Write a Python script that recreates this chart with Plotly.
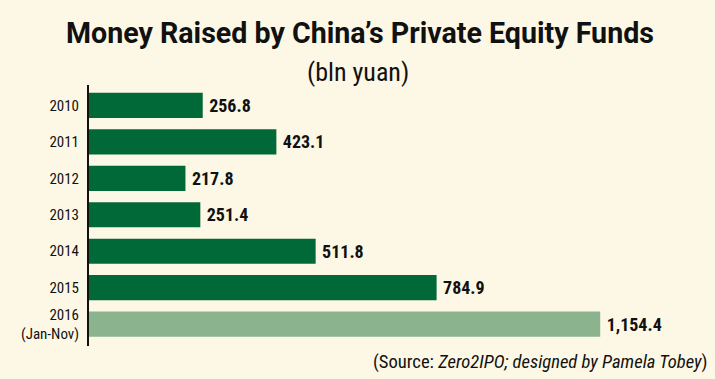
import plotly.graph_objects as go

years = ["2010", "2011", "2012", "2013", "2014", "2015", "2016<br>(Jan-Nov)"]
values = [256.8, 423.1, 217.8, 251.4, 511.8, 784.9, 1154.4]
bar_colors = ["#016937"] * 6 + ["#8ab38e"]

BG = "#fdf8e5"
COND = "Roboto Condensed, DejaVu Sans Condensed, sans-serif"
W, H = 715, 379
ML, MR, MT, MB = 89, 6, 85, 33
plot_w = W - ML - MR
plot_h = H - MT - MB


def px_x(x):
    return (x - ML) / plot_w


def px_y(y):
    return (H - MB - y) / plot_h


fig = go.Figure(go.Bar(
    x=values, y=years, orientation="h",
    marker=dict(color=bar_colors, line=dict(width=0)),
    width=0.69,
    texttemplate="\u2009%{x:,.1f}", textposition="outside", cliponaxis=False,
    textfont=dict(family=COND, size=18, color="#111111", weight="bold"),
))

fig.update_layout(
    width=W, height=H,
    paper_bgcolor=BG, plot_bgcolor=BG,
    margin=dict(l=ML, r=MR, t=MT, b=MB, autoexpand=False),
    showlegend=False,
    title=dict(
        text="<b>Money Raised by China’s Private Equity Funds</b>",
        x=360 / W, xanchor="center", y=1 - 33 / H, yanchor="middle",
        font=dict(family="Roboto, " + COND, size=28.6, color="#111111"),
    ),
    annotations=[
        dict(text="(bln yuan)", x=px_x(358), y=px_y(72), xref="paper", yref="paper",
             xanchor="center", yanchor="middle", showarrow=False,
             font=dict(family=COND, size=26, color="#111111")),
        dict(text="(Source: <i>Zero2IPO; designed by Pamela Tobey</i>)",
             x=px_x(710), y=px_y(362), xref="paper", yref="paper",
             xanchor="right", yanchor="middle", showarrow=False,
             font=dict(family=COND, size=18.6, color="#111111")),
    ],
)

fig.update_xaxes(range=[0, 1400], visible=False, showgrid=False, zeroline=False)
fig.update_yaxes(
    type="category", range=[6.6, -0.56], automargin=False,
    showline=True, linecolor="#111111", linewidth=2,
    showgrid=False, zeroline=False, ticks="",
    ticklabelstandoff=5,
    tickfont=dict(family=COND, size=15, color="#111111"),
)

fig.write_html(
    "out.html",
    config={"displayModeBar": False, "staticPlot": True},
    post_script="document.body.style.margin='0';document.body.style.padding='0';"
                "document.body.style.background='#fdf8e5';document.body.style.overflow='hidden';",
)
